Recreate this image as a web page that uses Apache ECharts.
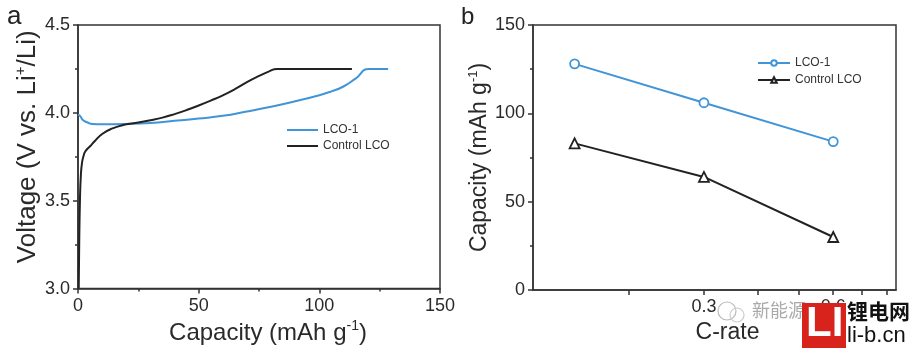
<!DOCTYPE html>
<html><head><meta charset="utf-8">
<script src="https://cdn.jsdelivr.net/npm/echarts@6/dist/echarts.min.js"></script>
<style>html,body{margin:0;padding:0;background:#fff}#c{width:916px;height:350px}</style>
</head><body><div id="c"></div>
<script>
// Panel a: charge curves (capacity mAh/g, voltage V)
const lco1Cap = [0, 1, 2, 4, 6, 10, 20, 30, 40, 50, 60, 70, 80, 90, 100, 105, 110, 115, 120.5, 128.5];
const lco1Volt = [3.99, 3.98, 3.96, 3.945, 3.937, 3.935, 3.937, 3.943, 3.955, 3.968, 3.983, 4.008, 4.035, 4.066, 4.1, 4.122, 4.15, 4.195, 4.25, 4.25];
const ctrlCap = [0.3, 0.5, 0.8, 1.2, 1.7, 2.3, 3, 5, 7, 10, 14, 19, 25, 30, 35, 40, 45, 50, 55, 60, 65, 70, 75, 79, 82.5, 113.5];
const ctrlVolt = [3.0, 3.25, 3.5, 3.65, 3.72, 3.755, 3.78, 3.81, 3.84, 3.88, 3.91, 3.932, 3.945, 3.958, 3.973, 3.993, 4.016, 4.042, 4.07, 4.1, 4.135, 4.175, 4.21, 4.235, 4.25, 4.25];
// Panel b: rate capability
const cRates = [0.15, 0.3, 0.6];
const lco1Rate = [128, 106, 84];
const ctrlRate = [83, 64, 30];
const bTickValues = [0.2, 0.3, 0.4, 0.5, 0.6, 0.7, 0.8];
const bLabelValues = [0.3, 0.6];
const names = ['LCO-1', 'Control LCO'];

const blue = '#4094d8', black = '#222';
const FONT = 'Arial, "Liberation Sans", sans-serif';
const axisLine = {show: true, lineStyle: {color: '#333', width: 1.5}};
const tickStyle = {show: true, inside: false, length: 5, lineStyle: {color: '#333', width: 1.5}};
const minorStyle = {show: true, splitNumber: 2, length: 3, lineStyle: {color: '#333', width: 1.5}};
const lblStyle = {fontSize: 18, color: '#2a2a2a', fontFamily: FONT};
function nameStyle(size, extra) {
  return Object.assign({fontSize: size, color: '#2a2a2a', fontFamily: FONT,
    rich: {sup: {fontSize: Math.round(size * 0.58), fontFamily: FONT, color: '#2a2a2a', padding: [0, 0, Math.round(size * 0.55), 0]}}}, extra || {});
}

const chart = echarts.init(document.getElementById('c'), null, {renderer: 'canvas'});
chart.setOption({
  animation: false,
  backgroundColor: '#fff',
  textStyle: {fontFamily: FONT},
  grid: [
    {left: 78, right: 476, top: 25, bottom: 60, show: true, borderColor: '#333', borderWidth: 1.5},
    {left: 533, right: 20, top: 25, bottom: 60, show: true, borderColor: '#333', borderWidth: 1.5}
  ],
  xAxis: [
    {gridIndex: 0, type: 'value', min: 0, max: 150, interval: 50, axisLine, axisTick: tickStyle, minorTick: minorStyle,
     splitLine: {show: false}, axisLabel: Object.assign({margin: 8}, lblStyle),
     name: 'Capacity (mAh g{sup|-1})', nameLocation: 'middle', nameGap: 28, nameTextStyle: nameStyle(24, {padding: [0, 0, 0, 18]})},
    {gridIndex: 1, type: 'log', logBase: 10, min: 0.12, max: 0.84, axisLine,
     axisTick: Object.assign({customValues: bTickValues}, tickStyle),
     splitLine: {show: false},
     axisLabel: Object.assign({margin: 8, customValues: bLabelValues, formatter: v => String(v)}, lblStyle),
     name: 'C-rate', nameLocation: 'middle', nameGap: 24, nameTextStyle: nameStyle(23, {padding: [0, 0, 0, 26]})}
  ],
  yAxis: [
    {gridIndex: 0, type: 'value', min: 3.0, max: 4.5, interval: 0.5, axisLine, axisTick: tickStyle, minorTick: minorStyle,
     splitLine: {show: false}, axisLabel: Object.assign({margin: 8, formatter: v => v.toFixed(1)}, lblStyle),
     name: 'Voltage (V vs. Li{sup|+}/Li)', nameLocation: 'middle', nameGap: 35, nameTextStyle: nameStyle(26, {padding: [0, 0, 0, 20]})},
    {gridIndex: 1, type: 'value', min: 0, max: 150, interval: 50, axisLine, axisTick: tickStyle, minorTick: minorStyle,
     splitLine: {show: false}, axisLabel: Object.assign({margin: 8}, lblStyle),
     name: 'Capacity (mAh g{sup|-1})', nameLocation: 'middle', nameGap: 38, nameTextStyle: nameStyle(23)}
  ],
  legend: [
    {left: 287, top: 124, padding: 0, orient: 'vertical', itemWidth: 31, itemHeight: 2, itemGap: 4, icon: 'rect',
     data: [names[0], names[1]], textStyle: {fontSize: 12, color: '#333', fontFamily: FONT}, selectedMode: false},
    {left: 757, top: 57, padding: 0, orient: 'vertical', itemWidth: 32, itemHeight: 7, itemGap: 5,
     data: [names[0] + ' ', names[1] + ' '], textStyle: {fontSize: 12, color: '#333', fontFamily: FONT}, selectedMode: false}
  ],
  series: [
    {name: names[0], type: 'line', xAxisIndex: 0, yAxisIndex: 0, symbol: 'none', smooth: 0.5,
     lineStyle: {color: blue, width: 2}, itemStyle: {color: blue},
     data: lco1Cap.map((c, i) => [c, lco1Volt[i]])},
    {name: names[1], type: 'line', xAxisIndex: 0, yAxisIndex: 0, symbol: 'none', smooth: 0.5,
     lineStyle: {color: black, width: 2}, itemStyle: {color: black},
     data: ctrlCap.map((c, i) => [c, ctrlVolt[i]])},
    {name: names[0] + ' ', type: 'line', xAxisIndex: 1, yAxisIndex: 1, symbol: 'circle', symbolSize: 9, showSymbol: true,
     lineStyle: {color: blue, width: 2}, itemStyle: {color: '#fff', borderColor: blue, borderWidth: 1.8},
     data: cRates.map((c, i) => [c, lco1Rate[i]])},
    {name: names[1] + ' ', type: 'line', xAxisIndex: 1, yAxisIndex: 1, symbol: 'triangle', symbolSize: 10, showSymbol: true,
     lineStyle: {color: black, width: 2}, itemStyle: {color: '#fff', borderColor: black, borderWidth: 1.8},
     data: cRates.map((c, i) => [c, ctrlRate[i]])}
  ],
  graphic: [
    {type: 'text', left: 7, top: 4, style: {text: 'a', fontSize: 26, fill: '#222', fontFamily: FONT}},
    {type: 'text', left: 461, top: 5, style: {text: 'b', fontSize: 24, fill: '#222', fontFamily: FONT}},
    // watermark
    {type: 'circle', shape: {cx: 727, cy: 311, r: 9}, style: {fill: 'none', stroke: '#bbb', lineWidth: 1.2}, z: 100},
    {type: 'circle', shape: {cx: 737, cy: 315, r: 7}, style: {fill: 'none', stroke: '#ccc', lineWidth: 1.2}, z: 100},
    {type: 'text', left: 752, top: 301, style: {text: '新能源', fontSize: 18, fill: '#aaa', fontFamily: '"Noto Sans CJK SC"'}, z: 100},
    {type: 'rect', shape: {x: 802, y: 303, width: 44, height: 45}, style: {fill: '#d8231c'}, z: 101},
    {type: 'text', left: 806, top: 303, style: {text: 'LI', fontSize: 42, fontWeight: 'bold', fill: '#fff', fontFamily: FONT}, z: 102},
    {type: 'text', left: 847, top: 301, style: {text: '锂电网', fontSize: 21, fontWeight: 'bold', fill: '#111', fontFamily: '"Noto Sans CJK SC"'}, z: 100},
    {type: 'text', left: 847, top: 325, style: {text: 'li-b.cn', fontSize: 22, fill: '#111', fontFamily: FONT}, z: 100}
  ]
});
</script></body></html>
